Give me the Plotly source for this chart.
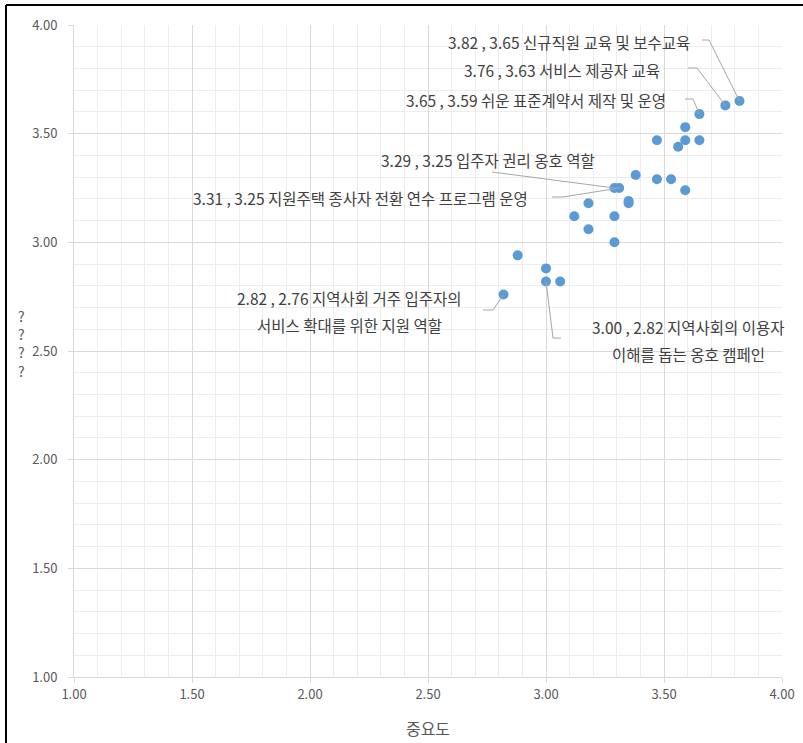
import plotly.graph_objects as go

# 중요도 (x) and second measure (y)
importance = [3.82, 3.76, 3.65, 3.59, 3.47, 3.59, 3.65, 3.56, 3.38, 3.47, 3.53, 3.59,
              3.29, 3.31, 3.35, 3.35, 3.18, 3.12, 3.29, 3.18, 3.29, 2.88, 3.00, 3.00,
              3.06, 2.82]
performance = [3.65, 3.63, 3.59, 3.53, 3.47, 3.47, 3.47, 3.44, 3.31, 3.29, 3.29, 3.24,
               3.25, 3.25, 3.19, 3.18, 3.18, 3.12, 3.12, 3.06, 3.00, 2.94, 2.88, 2.82,
               2.82, 2.76]

# labelled points: index into arrays, label lines
label_idx = [0, 1, 2, 12, 13, 25, 23]
label_text = [
    ["신규직원 교육 및 보수교육"],
    ["서비스 제공자 교육"],
    ["쉬운 표준계약서 제작 및 운영"],
    ["입주자 권리 옹호 역할"],
    ["지원주택 종사자 전환 연수 프로그램 운영"],
    ["지역사회 거주 입주자의", "서비스 확대를 위한 지원 역할"],
    ["지역사회의 이용자", "이해를 돕는 옹호 캠페인"],
]

tick_vals = [1.0, 1.5, 2.0, 2.5, 3.0, 3.5, 4.0]
tick_text = ["1.00", "1.50", "2.00", "2.50", "3.00", "3.50", "4.00"]

# ---- layout helpers (pixel geometry of the plot area) ----
W, H = 803, 743
ML, MR, MT, MB = 74, 21, 25, 66
PW, PH = W - ML - MR, H - MT - MB


def dx(px):
    return 1 + (px - ML) / PW * 3


def dy(py):
    return 1 + (H - MB - py) / PH * 3


# label placement (pixel anchor of text, anchor side, leader path pixels)
label_pos = [
    dict(x=692, y=[42], anchor="right", path=[(702, 40), (709, 40)]),
    dict(x=662, y=[70], anchor="right", path=[(688, 68), (697, 68)]),
    dict(x=668, y=[100], anchor="right", path=[(685, 99), (693, 99)]),
    dict(x=597, y=[160], anchor="right", path=[(492, 172)]),
    dict(x=530, y=[198], anchor="right", path=[(552, 197), (563, 197)]),
    dict(x=349, y=[298, 325], anchor="center", path=[(483, 310), (493, 310)]),
    dict(x=688, y=[327, 354], anchor="center", path=[(561, 338), (553, 338)]),
]

FONT = "Noto Sans CJK KR, Malgun Gothic, sans-serif"
TXT = "#404040"

fig = go.Figure()
fig.add_trace(go.Scatter(
    x=importance, y=performance, mode="markers",
    marker=dict(size=10, color="#5b9bd5"),
    hoverinfo="x+y", showlegend=False,
))

annotations = []
shapes = []
for k, idx in enumerate(label_idx):
    pos = label_pos[k]
    lines = label_text[k]
    head = f"{importance[idx]:.2f} , {performance[idx]:.2f} "
    for j, line in enumerate(lines):
        txt = head + line if j == 0 else line
        annotations.append(dict(
            x=dx(pos["x"]), y=dy(pos["y"][j]), xref="x", yref="y",
            text=txt, showarrow=False, xanchor=pos["anchor"], yanchor="middle",
            font=dict(family=FONT, size=15.5, color=TXT),
        ))
    pts = [(dx(px), dy(py)) for px, py in pos["path"]] + [(importance[idx], performance[idx])]
    path = "M " + " L ".join(f"{a},{b}" for a, b in pts)
    shapes.append(dict(type="path", xref="x", yref="y", path=path,
                       line=dict(color="#a6a6a6", width=1)))

# y-axis title (rendered as ? marks)
annotations.append(dict(
    x=(21 - ML) / PW, y=(H - MB - 344) / PH, xref="paper", yref="paper",
    text="?<br>?<br>?<br>?", showarrow=False, xanchor="center", yanchor="middle",
    font=dict(family=FONT, size=14, color="#595959"),
))

# outer black frame (top & left visible)
shapes.append(dict(type="line", xref="paper", yref="paper",
                   x0=(6 - ML) / PW, x1=(W + 5 - ML) / PW,
                   y0=(H - MB - 5) / PH, y1=(H - MB - 5) / PH,
                   line=dict(color="#000000", width=2)))
shapes.append(dict(type="line", xref="paper", yref="paper",
                   x0=(6 - ML) / PW, x1=(6 - ML) / PW,
                   y0=(H - MB - 5) / PH, y1=(H - MB - H - 5) / PH,
                   line=dict(color="#000000", width=2)))

axis_common = dict(
    range=[1, 4], tickvals=tick_vals, ticktext=tick_text,
    showgrid=True, gridcolor="#d9d9d9", gridwidth=1,
    minor=dict(dtick=0.1, tick0=1, showgrid=True, gridcolor="#ededed", gridwidth=1,
               ticks=""),
    showline=True, linecolor="#d9d9d9", linewidth=1,
    ticks="outside", ticklen=5, tickcolor="#d9d9d9",
    tickfont=dict(family=FONT, size=13, color="#595959"),
    zeroline=False, fixedrange=True, automargin=False,
)

fig.update_layout(
    width=W, height=H,
    margin=dict(l=ML, r=MR, t=MT, b=MB, pad=0, autoexpand=False),
    paper_bgcolor="white", plot_bgcolor="white",
    xaxis=dict(**axis_common,
               title=dict(text="중요도", font=dict(family=FONT, size=16, color="#595959"),
                          standoff=22)),
    yaxis=dict(**axis_common, ticklabelstandoff=8),
    annotations=annotations,
    shapes=shapes,
)

fig.write_html("out.html", config={"displayModeBar": False},
               post_script="document.body.style.margin='0';document.body.style.padding='0';")
